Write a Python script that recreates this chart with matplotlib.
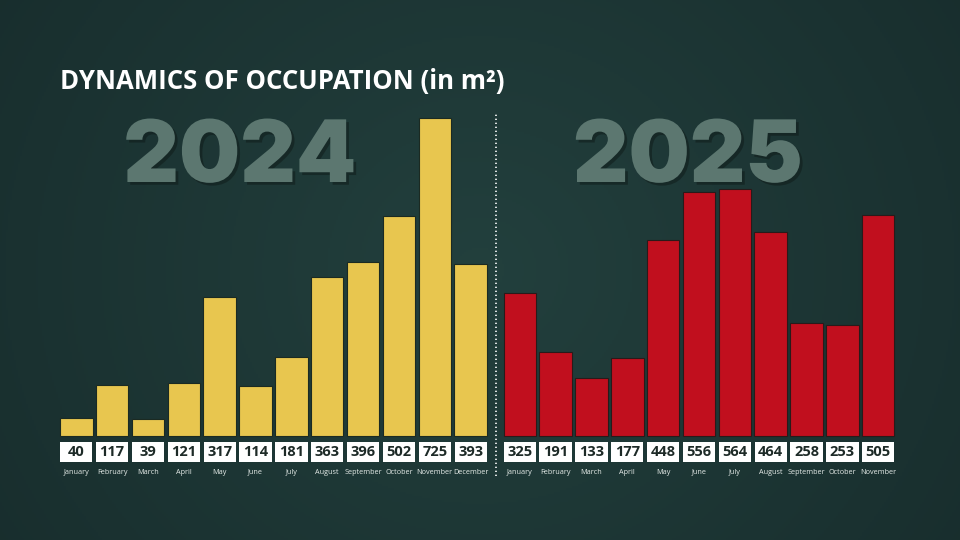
import numpy as np
import matplotlib
matplotlib.use('Agg')
import matplotlib.pyplot as plt
import matplotlib.patheffects as pe

# 数据
months_2024 = ['January', 'February', 'March', 'April', 'May', 'June', 'July',
               'August', 'September', 'October', 'November', 'December']
values_2024 = [40, 117, 39, 121, 317, 114, 181, 363, 396, 502, 725, 393]
months_2025 = ['January', 'February', 'March', 'April', 'May', 'June', 'July',
               'August', 'September', 'October', 'November']
values_2025 = [325, 191, 133, 177, 448, 556, 564, 464, 258, 253, 505]

plt.rcParams['font.family'] = ['Open Sans', 'DejaVu Sans']

fig = plt.figure(figsize=(9.6, 5.4), dpi=100)

# 背景渐变
bg = fig.add_axes([0, 0, 1, 1])
yy, xx = np.mgrid[0:1:270j, 0:1:480j]
d = np.sqrt((xx - 0.5) ** 2 + ((yy - 0.5) * 0.6) ** 2)
c0 = np.array([0.135, 0.250, 0.240])
c1 = np.array([0.095, 0.180, 0.178])
t = np.clip(d / 0.6, 0, 1)[..., None]
img = c0 * (1 - t) + c1 * t
bg.imshow(img, extent=[0, 1, 0, 1], aspect='auto')
bg.axis('off')

ax = fig.add_axes([0, 0, 1, 1])
ax.patch.set_alpha(0)
pitch = 35.85
ax.set_xlim(-76.3 / pitch, (960 - 76.3) / pitch)
scale = 0.4386
ax.set_ylim(-(540 - 436) / scale, 436 / scale)
ax.axis('off')

x24 = np.arange(len(values_2024))
x25 = np.arange(len(values_2025)) + 12.37

ax.bar(x24, values_2024, width=0.905, color='#e8c64f', edgecolor='#1b2a22', linewidth=0.8)
ax.bar(x25, values_2025, width=0.905, color='#c10f1e', edgecolor='#2a1a1a', linewidth=0.8)

lab_y = -36 / scale
for xs, vals, names in [(x24, values_2024, months_2024), (x25, values_2025, months_2025)]:
    for x, v, m in zip(xs, vals, names):
        ax.add_patch(plt.Rectangle((x - 0.45, -26 / scale), 0.9, 20 / scale,
                                   facecolor='white', edgecolor='none'))
        ax.text(x, -16.5 / scale, str(v), ha='center', va='center', fontsize=10.5,
                fontweight='bold', color='#1d2a27')
        ax.text(x, lab_y, m, ha='center', va='center', fontsize=5.2,
                color='#e6ece9')

# 分隔虚线
ax.plot([11.71, 11.71], [-40 / scale, (436 - 112) / scale], color='white',
        linewidth=1.2, linestyle=(0, (0.8, 1.6)))

# 年份
shadow = [pe.withSimplePatchShadow(offset=(2, -2), shadow_rgbFace='#0f1a18', alpha=0.5)]
fig.text(240 / 960, 1 - 182 / 540, '2024', ha='center', va='baseline', fontsize=62,
         fontweight='black', color='#5c7770', family=['Inter', 'DejaVu Sans'],
         path_effects=shadow)
fig.text(688 / 960, 1 - 182 / 540, '2025', ha='center', va='baseline', fontsize=62,
         fontweight='black', color='#5c7770', family=['Inter', 'DejaVu Sans'],
         path_effects=shadow)

# 标题
fig.text(60 / 960, 1 - 82 / 540, 'DYNAMICS OF OCCUPATION (in m²)', ha='left', va='center',
         fontsize=18.5, fontweight='bold', color='white')

fig.savefig('out.png', dpi=100)
